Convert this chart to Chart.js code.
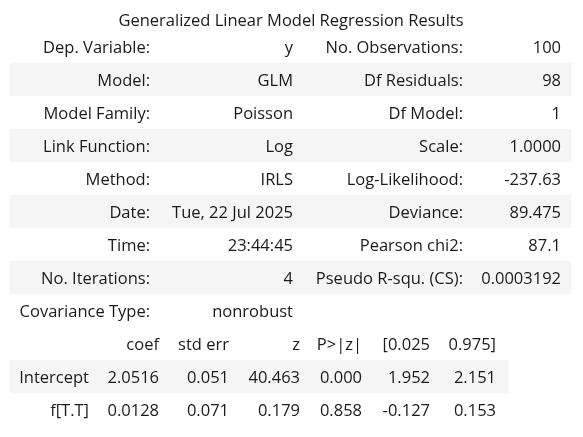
<!DOCTYPE html>
<html>
<head>
<meta charset="utf-8">
<script src="https://cdn.jsdelivr.net/npm/chart.js@4.4.1/dist/chart.umd.min.js"></script>
<style>
  html, body { margin: 0; padding: 0; background: #fff; }
  #wrap { width: 583px; height: 437px; }
</style>
</head>
<body>
<div id="wrap"><canvas id="glmTable" width="583" height="437"></canvas></div>
<script>
// ---- table contents ----
const title = "Generalized Linear Model Regression Results";

const leftLabels = ["Dep. Variable:", "Model:", "Model Family:", "Link Function:",
                    "Method:", "Date:", "Time:", "No. Iterations:", "Covariance Type:"];
const leftValues = ["y", "GLM", "Poisson", "Log", "IRLS",
                    "Tue, 22 Jul 2025", "23:44:45", "4", "nonrobust"];
const rightLabels = ["No. Observations:", "Df Residuals:", "Df Model:", "Scale:",
                     "Log-Likelihood:", "Deviance:", "Pearson chi2:", "Pseudo R-squ. (CS):"];
const rightValues = ["100", "98", "1", "1.0000", "-237.63", "89.475", "87.1", "0.0003192"];

const coefHeaders = ["coef", "std err", "z", "P>|z|", "[0.025", "0.975]"];
const terms   = ["Intercept", "f[T.T]"];
const coefs   = [2.0516, 0.0128];
const stdErrs = [0.051, 0.071];
const zVals   = [40.463, 0.179];
const pVals   = [0.000, 0.858];
const ciLow   = [1.952, -0.127];
const ciHigh  = [2.151, 0.153];

// ---- layout (x in canvas units, y in row units: row 0 = "Dep. Variable") ----
const TOP_ROW = 0;
const HEADER_ROW = 9;        // coef / std err ... header
const FIRST_TERM_ROW = 10;
const infoCols = { lbl1: 150, val1: 293, lbl2: 463, val2: 561 };
const coefCols = [159, 229, 300, 362, 430, 496];
const termCol = 89;
const FONT = "16.5px 'Open Sans', sans-serif";
const INK = "#1a1a1a";
const TEXT_NUDGE = 2;   // px, text sits a touch below the row centre

// striped rows: every second info row, and the first term row
const infoBands = leftLabels.slice(0, 8)
  .map((_, i) => i)
  .filter(i => i % 2 === 1)
  .map(i => ({ y: TOP_ROW + i, x: [10, 571] }));
const coefBands = terms
  .map((_, i) => i)
  .filter(i => i % 2 === 0)
  .map(i => ({ y: FIRST_TERM_ROW + i, x: [10, 508] }));

const textPlugin = {
  id: "tableText",
  afterDatasetsDraw(chart) {
    const ctx = chart.ctx;
    const xs = chart.scales.x, ys = chart.scales.y;
    const put = (txt, col, row, align) => {
      ctx.textAlign = align || "right";
      ctx.fillText(txt, xs.getPixelForValue(col), ys.getPixelForValue(row) + TEXT_NUDGE);
    };
    ctx.save();
    ctx.font = FONT;
    ctx.fillStyle = INK;
    ctx.textBaseline = "middle";

    put(title, 291, -0.83, "center");

    leftLabels.forEach((t, i) => put(t, infoCols.lbl1, TOP_ROW + i));
    leftValues.forEach((t, i) => put(t, infoCols.val1, TOP_ROW + i));
    rightLabels.forEach((t, i) => put(t, infoCols.lbl2, TOP_ROW + i));
    rightValues.forEach((t, i) => put(t, infoCols.val2, TOP_ROW + i));

    coefHeaders.forEach((t, j) => put(t, coefCols[j], HEADER_ROW));
    terms.forEach((name, i) => {
      const row = FIRST_TERM_ROW + i;
      put(name, termCol, row);
      const cells = [coefs[i].toFixed(4), stdErrs[i].toFixed(3), zVals[i].toFixed(3),
                     pVals[i].toFixed(3), ciLow[i].toFixed(3), ciHigh[i].toFixed(3)];
      cells.forEach((c, j) => put(c, coefCols[j], row));
    });
    ctx.restore();
  }
};

new Chart(document.getElementById("glmTable"), {
  type: "bar",
  data: {
    datasets: [
      { data: infoBands, backgroundColor: "#f5f5f5", borderWidth: 0, barThickness: 33 },
      { data: coefBands, backgroundColor: "#f5f5f5", borderWidth: 0, barThickness: 33 }
    ]
  },
  options: {
    indexAxis: "y",
    responsive: false,
    animation: false,
    events: [],
    layout: { padding: 0 },
    plugins: { legend: { display: false }, tooltip: { enabled: false } },
    scales: {
      x: { type: "linear", min: 0, max: 583, display: false, offset: false },
      y: { type: "linear", min: -1.409, max: 11.833, reverse: true, display: false,
           offset: false, stacked: false }
    },
    datasets: { bar: { grouped: false } }
  },
  plugins: [textPlugin]
});
</script>
</body>
</html>
